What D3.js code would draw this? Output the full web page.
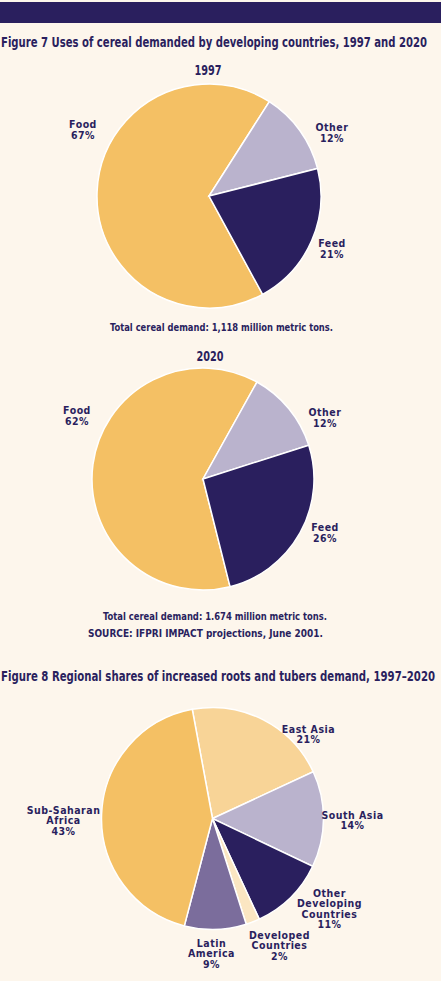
<!DOCTYPE html>
<html>
<head>
<meta charset="utf-8">
<script src="https://cdn.jsdelivr.net/npm/d3@7"></script>
<style>
  html, body { margin: 0; padding: 0; background: #fdf6ec; }
  svg text { font-family: "DejaVu Sans Condensed", "DejaVu Sans", sans-serif; font-stretch: condensed; font-weight: bold; fill: #2a1f5e; }
</style>
</head>
<body>
<div id="chart"></div>
<script>
// Figure 7 data
const uses = ["Food", "Other", "Feed"]
const share1997 = [67, 12, 21]
const share2020 = [62, 12, 26]

// Figure 8 data
const regions = ["East Asia", "South Asia", "Other Developing Countries", "Developed Countries", "Latin America", "Sub-Saharan Africa"]
const regionShares = [21, 14, 11, 2, 9, 43]

const width = 441, height = 981
const ink = "#2a1f5e"
const deg = Math.PI / 180

const svg = d3.select("#chart").append("svg")
    .attr("width", width)
    .attr("height", height)

svg.append("rect").attr("width", width).attr("height", height).attr("fill", "#fdf6ec")
svg.append("rect").attr("x", 0).attr("y", 2).attr("width", width).attr("height", 21).attr("fill", ink)

// single text line, optionally squeezed to a measured width
function txt(x, y, s, size, anchor, fit) {
    const t = svg.append("text")
        .attr("x", x).attr("y", y)
        .attr("text-anchor", anchor || "middle")
        .style("font-size", size + "px")
        .text(s)
    if (fit) t.attr("textLength", fit).attr("lengthAdjust", "spacingAndGlyphs")
    return t
}

// multi-line label centred on x
function label(x, y, lines, size, lh) {
    const t = svg.append("text")
        .attr("text-anchor", "middle")
        .style("font-size", size + "px")
        .style("letter-spacing", "0.5px")
    lines.forEach(function (l, i) {
        t.append("tspan").attr("x", x).attr("y", y + i * lh).text(l)
    })
}

function drawPie(cx, cy, r, names, values, colors, start) {
    const pie = d3.pie().sort(null).value(function (d) { return d.v })
        .startAngle(start * deg).endAngle(start * deg + 2 * Math.PI)
    const arc = d3.arc().innerRadius(0).outerRadius(r)
    const color = d3.scaleOrdinal().domain(names).range(colors)
    const data = names.map(function (n, i) { return { name: n, v: values[i] } })
    svg.append("g")
        .attr("transform", `translate(${cx},${cy})`)
        .selectAll("path")
        .data(pie(data))
        .join("path")
        .attr("d", arc)
        .attr("fill", function (d) { return color(d.data.name) })
        .attr("stroke", "#ffffff")
        .attr("stroke-width", 1.5)
}

const LS = 10.5, LH = 10.5

// Figure 7
txt(1, 47, "Figure 7 Uses of cereal demanded by developing countries, 1997 and 2020", 14, "start", 426)
txt(208, 75, "1997", 13.5, "middle", 27)

const useColors = ["#f4c064", "#bab3cd", "#2a1f5e"]
drawPie(209, 196, 112, uses, share1997, useColors, -208.6)

// label offsets from pie centre (layout only)
const useLabelPos1997 = [[-126, -68], [123, -65], [123, 51]]
uses.forEach(function (u, i) {
    label(209 + useLabelPos1997[i][0], 196 + useLabelPos1997[i][1], [u, share1997[i] + "%"], LS, LH)
})
txt(221.5, 331, "Total cereal demand: 1,118 million metric tons.", 10.5, "middle", 223)

txt(210, 361, "2020", 13.5, "middle", 27)
drawPie(203, 479, 111, uses, share2020, useColors, -194.1)
const useLabelPos2020 = [[-126, -65], [122, -63], [122, 52]]
uses.forEach(function (u, i) {
    label(203 + useLabelPos2020[i][0], 479 + useLabelPos2020[i][1], [u, share2020[i] + "%"], LS, LH)
})
txt(215, 620, "Total cereal demand: 1.674 million metric tons.", 10.5, "middle", 224)
txt(205.5, 637, "SOURCE: IFPRI IMPACT projections, June 2001.", 11, "middle", 235)

// Figure 8
txt(1, 681, "Figure 8  Regional shares of increased roots and tubers demand, 1997\u20132020", 14, "start", 434)

const regionColors = ["#f8d497", "#bab3cd", "#2a1f5e", "#fbe6c2", "#7b6d9c", "#f4c064"]
drawPie(212.5, 818.5, 111, regions, regionShares, regionColors, -10.5)

const regionLabelLines = [["East Asia"], ["South Asia"], ["Other", "Developing", "Countries"], ["Developed", "Countries"], ["Latin", "America"], ["Sub-Saharan", "Africa"]]
const regionLabelPos = [[96, -86], [140, 0], [117, 78], [67, 120], [-1, 128], [-149, -5]]
regions.forEach(function (r, i) {
    label(212.5 + regionLabelPos[i][0], 818.5 + regionLabelPos[i][1],
        regionLabelLines[i].concat([regionShares[i] + "%"]), LS, LH)
})
</script>
</body>
</html>
